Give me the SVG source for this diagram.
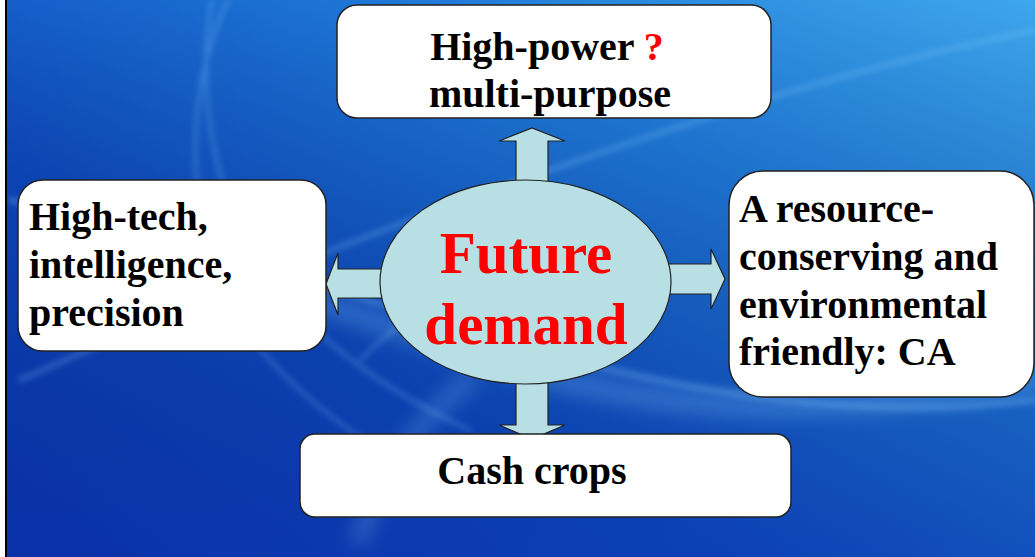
<svg xmlns="http://www.w3.org/2000/svg" width="1035" height="557" viewBox="0 0 1035 557">
<defs>
<linearGradient id="bg" x1="0" y1="1" x2="1" y2="0">
<stop offset="0" stop-color="#0a33ad"/>
<stop offset="0.35" stop-color="#0d48bd"/>
<stop offset="0.7" stop-color="#1f7ad8"/>
<stop offset="1" stop-color="#3ea6ec"/>
</linearGradient>
<linearGradient id="bg2" x1="0" y1="0" x2="0" y2="1">
<stop offset="0" stop-color="#000" stop-opacity="0"/>
<stop offset="1" stop-color="#0a2a9a" stop-opacity="0.25"/>
</linearGradient>
<filter id="blur" x="-10%" y="-10%" width="120%" height="120%"><feGaussianBlur stdDeviation="3"/></filter>
<filter id="blur2" x="-10%" y="-10%" width="120%" height="120%"><feGaussianBlur stdDeviation="10"/></filter>
<style>
.box{fill:#fff;stroke:#222;stroke-width:1.5}
.arrow{fill:#b8e0e4;stroke:#222;stroke-width:1.2;stroke-linejoin:miter}
.t{font-family:"Liberation Serif","Times New Roman",serif;font-weight:bold;font-size:40px;fill:#000}
.big{font-size:59px}
.red{fill:#ff0000}
.streak{fill:none;stroke:#8fd0ff;stroke-linecap:round}
</style>
</defs>
<rect x="0" y="0" width="1035" height="557" fill="#fff"/>
<g id="background">
<rect x="7" y="0" width="1028" height="557" fill="url(#bg)"/>
<rect x="7" y="0" width="1028" height="557" fill="url(#bg2)"/>
<g filter="url(#blur)" opacity="0.35">
<path class="streak" stroke-width="3" d="M228,0 C190,80 185,180 215,270 C240,340 300,400 380,450"/>
<path class="streak" stroke-width="3" d="M212,0 C200,70 205,150 240,230 C280,310 360,380 470,430"/>
<path class="streak" stroke-width="4" d="M20,380 C200,300 420,210 700,120 C820,80 940,50 1035,30"/>
<path class="streak" stroke-width="5" d="M10,200 C150,230 300,280 500,340 C700,400 880,420 1035,400"/>
<path class="streak" stroke-width="3" d="M360,360 C420,300 500,260 600,230"/>
</g>
<g filter="url(#blur2)" opacity="0.3">
<path class="streak" stroke-width="18" d="M40,230 C200,250 380,330 560,380 C720,420 880,410 1035,380"/>
<path class="streak" stroke-width="14" d="M360,540 C380,470 420,420 470,380"/>
</g>
</g>
<rect x="5" y="0" width="2" height="557" fill="#000"/>
<g id="connectors">
<path class="arrow" d="M516,182 L516,141 L499,141 L532,128 L565,141 L548,141 L548,182 Z"/>
<path class="arrow" d="M516,382 L516,425 L499,425 L532,439 L565,425 L548,425 L548,382 Z"/>
<path class="arrow" d="M382,269 L338,269 L338,253 L326,284 L338,315 L338,298 L382,298 Z"/>
<path class="arrow" d="M668,264 L711,264 L711,249 L725,279 L711,309 L711,294 L668,294 Z"/>
</g>
<g id="node-center">
<ellipse cx="525.5" cy="282" rx="145.5" ry="102" fill="#b8e0e4" stroke="#222" stroke-width="1.2"/>
<text class="t big red" x="526" y="273" text-anchor="middle">Future</text>
<text class="t big red" x="526" y="344" text-anchor="middle">demand</text>
</g>
<g id="node-top">
<rect class="box" x="337" y="5" width="434" height="113" rx="20"/>
<text class="t" x="547" y="60" text-anchor="middle">High-power <tspan class="red">?</tspan></text>
<text class="t" x="550" y="107" text-anchor="middle">multi-purpose</text>
</g>
<g id="node-left">
<rect class="box" x="18" y="180" width="308" height="171" rx="25"/>
<text class="t" x="29" y="230">High-tech,</text>
<text class="t" x="29" y="278">intelligence,</text>
<text class="t" x="29" y="326">precision</text>
</g>
<g id="node-right">
<rect class="box" x="729" y="171" width="305" height="226" rx="34"/>
<text class="t" x="739" y="222">A resource-</text>
<text class="t" x="739" y="270">conserving and</text>
<text class="t" x="739" y="318">environmental</text>
<text class="t" x="739" y="365">friendly: CA</text>
</g>
<g id="node-bottom">
<rect class="box" x="300" y="434" width="491" height="83" rx="15"/>
<text class="t" x="532" y="484" text-anchor="middle">Cash crops</text>
</g>
</svg>
